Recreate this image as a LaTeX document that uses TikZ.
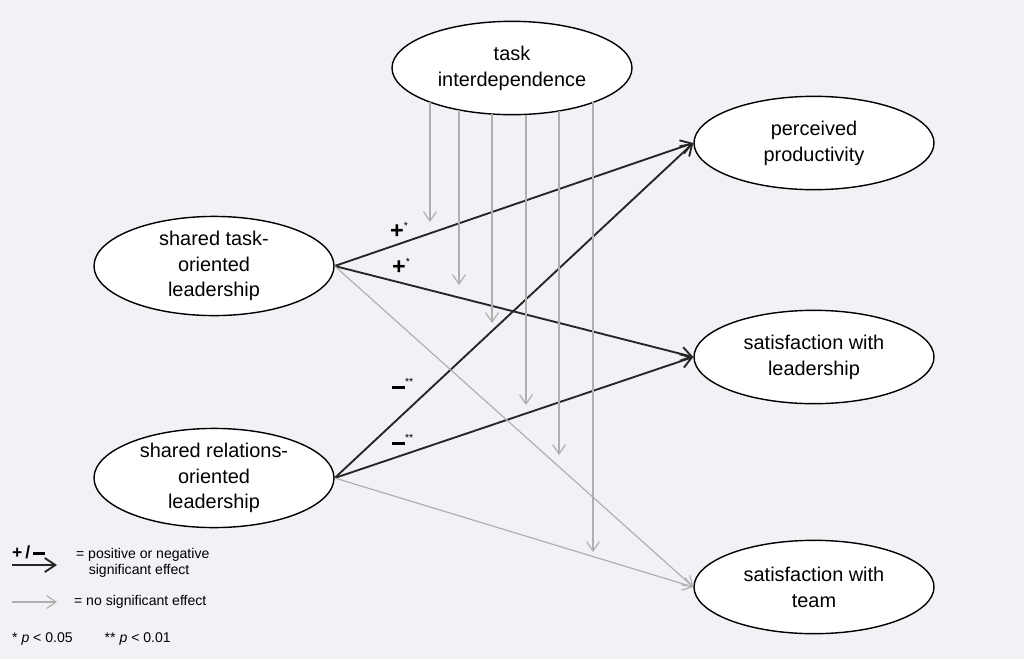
\documentclass[tikz,border=0pt]{standalone}
\usepackage{fontspec}
\setmainfont{Liberation Sans}
\usetikzlibrary{shapes.geometric,arrows.meta}
\definecolor{bg}{RGB}{240,242,246}
\definecolor{nsig}{RGB}{175,175,175}
\tikzset{
  var/.style={draw, thick, ellipse, fill=white, line width=1.2pt, inner sep=0pt,
    minimum width=7.2cm, minimum height=2.8cm, align=center, font=\fontsize{17}{22}\selectfont},
  sig/.style={-{Straight Barb[length=9pt,width=12pt]}, line width=1.6pt, black!85},
  ns/.style={-{Straight Barb[length=8pt,width=11pt]}, line width=1pt, nsig},
  sgn/.style={font=\fontsize{20}{20}\selectfont\bfseries, anchor=west}
}
\begin{document}
\begin{tikzpicture}[x=0.03cm, y=-0.03cm]
  \fill[bg] (0,0) rectangle (1024,659);
  % Variablen
  \node[var] (ti) at (512,68) {task\\interdependence};
  \node[var] (pp) at (814,143) {perceived\\productivity};
  \node[var] (sl) at (814,357) {satisfaction with\\leadership};
  \node[var] (st) at (814,587) {satisfaction with\\team};
  \node[var] (tl) at (214,266) {shared task-\\oriented\\leadership};
  \node[var] (rl) at (214,478) {shared relations-\\oriented\\leadership};
  % Pfade
  \draw[sig] (tl.east) -- (pp.west);
  \draw[sig] (tl.east) -- (sl.west);
  \draw[sig] (rl.east) -- (pp.west);
  \draw[sig] (rl.east) -- (sl.west);
  \draw[ns] (tl.east) -- (st.west);
  \draw[ns] (rl.east) -- (st.west);
  % Moderation
  \foreach \x/\ya/\yb in {430/102/222, 459/110/285, 492/114/323, 526/115/405, 559/111/455, 593/102/552}{
    \coordinate (m\x) at (\x,\ya);
    \coordinate (e\x) at (\x,\yb);
    \draw[ns] (m\x) -- (e\x);
  }
  % Vorzeichen
  \node[sgn] (s1) at (386,230) {+\textsuperscript{\normalfont\small *}};
  \node[sgn] (s2) at (388,266) {+\textsuperscript{\normalfont\small *}};
  \node[sgn] (s3) at (388,386) {\rule[4pt]{11pt}{2.5pt}\textsuperscript{\normalfont\small **}};
  \node[sgn] (s4) at (388,442) {\rule[4pt]{11pt}{2.5pt}\textsuperscript{\normalfont\small **}};
  % Legende
  \node[sgn, font=\fontsize{15}{15}\selectfont\bfseries] (lg) at (8,552) {+\,/\,\rule[3pt]{10pt}{2.2pt}};
  \coordinate (la) at (12,565);
  \coordinate (lb) at (57,565);
  \draw[sig] (la) -- (lb);
  \node[anchor=north west, align=left, font=\fontsize{12}{14}\selectfont] (lt1) at (72,544) {= positive or negative\\\hspace{0.9em}significant effect};
  \coordinate (lc) at (12,602);
  \coordinate (ld) at (57,602);
  \draw[ns] (lc) -- (ld);
  \node[anchor=west, font=\fontsize{12}{14}\selectfont] (lt2) at (70,602) {= no significant effect};
  \node[anchor=west, font=\fontsize{12}{14}\selectfont] (lt3) at (8,639) {* \textit{p} < 0.05 \qquad ** \textit{p} < 0.01};
\end{tikzpicture}
\end{document}
